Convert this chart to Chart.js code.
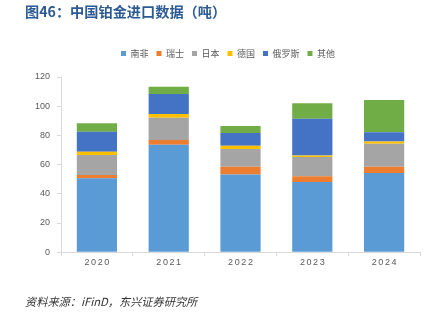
<!DOCTYPE html>
<html><head><meta charset="utf-8">
<script src="https://cdn.jsdelivr.net/npm/chart.js@4/dist/chart.umd.min.js"></script>
<style>
html,body{margin:0;padding:0;background:#fff;width:430px;height:321px;overflow:hidden;}
#title{position:absolute;left:25px;top:1px;font-family:"Noto Sans CJK SC";font-weight:bold;font-size:14.2px;color:#2B5A94;white-space:nowrap;}
#foot{position:absolute;left:25px;top:293px;font-family:"Noto Sans CJK SC";font-style:italic;font-size:11.2px;color:#333;white-space:nowrap;}
#c{position:absolute;left:0;top:0;}
</style></head>
<body>
<canvas id="c" width="430" height="321"></canvas>
<div id="title">图46：中国铂金进口数据（吨）</div>
<div id="foot">资料来源：iFinD，东兴证券研究所</div>
<script>
const categories = ['2020','2021','2022','2023','2024'];
const seriesNames = ['南非','瑞士','日本','德国','俄罗斯','其他'];
const southAfrica = [50.7, 73.6, 53.3, 48.0, 54.2];
const switzerland = [2.1, 3.2, 5.2, 4.1, 4.3];
const japan       = [13.7, 15.3, 12.1, 13.1, 15.8];
const germany     = [2.3, 2.6, 2.3, 1.1, 1.6];
const russia      = [13.7, 13.7, 8.7, 25.1, 6.2];
const others      = [5.8, 5.0, 4.8, 10.6, 22.2];
const yTicks = [0,20,40,60,80,100,120];
const colors = ['#5B9BD5','#ED7D31','#A5A5A5','#FFC000','#4472C4','#70AD47'];
const values = [southAfrica, switzerland, japan, germany, russia, others];

const legendGap = {
  id:'legendGap',
  beforeInit(chart){
    const lg = chart.legend;
    const orig = lg.fit;
    lg.fit = function(){ orig.call(this); this.height += 9; };
  }
};

const chart = new Chart(document.getElementById('c'), {
  type:'bar',
  data:{
    labels: categories,
    datasets: seriesNames.map((n,i)=>({label:n, data:values[i], backgroundColor:colors[i], borderWidth:0, categoryPercentage:1, barPercentage:0.56}))
  },
  options:{
    responsive:false, animation:false,
    devicePixelRatio:1,
    layout:{padding:{top:41,left:28,right:10,bottom:52}},
    plugins:{
      legend:{position:'top', labels:{boxWidth:5, boxHeight:5, padding:8, color:'#595959', font:{family:'"Noto Sans CJK SC"', size:9}}},
      tooltip:{enabled:false}
    },
    scales:{
      x:{stacked:true, grid:{display:true, drawOnChartArea:false, offset:true, tickLength:4, color:'#D9D9D9'}, border:{color:'#D9D9D9'},
         ticks:{color:'#595959', font:{family:'"Liberation Sans"', size:9}, padding:1}},
      y:{stacked:true, min:0, max:120, afterBuildTicks(s){ s.ticks = yTicks.map(v=>({value:v})); },
         grid:{display:true, drawOnChartArea:false, tickLength:4, color:'#D9D9D9'}, border:{color:'#D9D9D9'},
         ticks:{color:'#595959', font:{family:'"Liberation Sans"', size:9}, padding:7}}
    }
  },
  plugins:[legendGap]
});
const xs = chart.scales.x;
const origDraw = xs.drawLabels;
xs.drawLabels = function(area){
  const ctx = this.ctx; ctx.save(); ctx.letterSpacing = '1.6px';
  ctx.translate(0.8, 0);
  origDraw.call(this, area); ctx.restore();
};
const lgd = chart.legend;
const origLegendDraw = lgd.draw;
lgd.draw = function(){
  const ctx = this.ctx; ctx.save(); ctx.translate(4, 0);
  origLegendDraw.call(this); ctx.restore();
};
chart.draw();
</script>
</body></html>
